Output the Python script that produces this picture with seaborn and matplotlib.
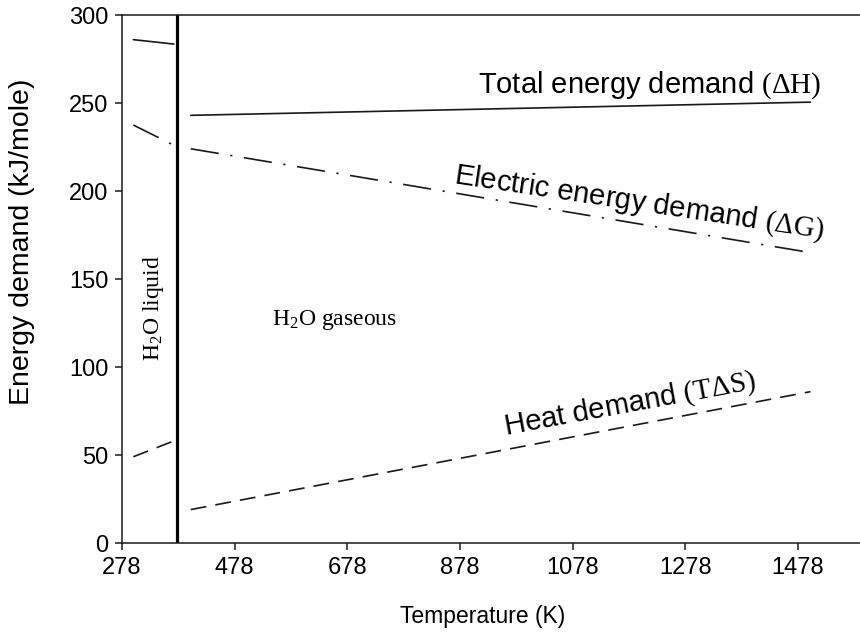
import matplotlib
matplotlib.use('Agg')
import matplotlib.pyplot as plt
import seaborn as sns
import pandas as pd

temp_liquid = [298, 370]
temp_gas = [400, 1500]
total_liquid = [286, 283.5]
total_gas = [243, 250.5]
electric_liquid = [237.5, 226]
electric_gas = [224, 165]
heat_liquid = [49, 58]
heat_gas = [19, 86]
boiling_point = 376

x_ticks = [278, 478, 678, 878, 1078, 1278, 1478]
y_ticks = [0, 50, 100, 150, 200, 250, 300]

sns.set_style('ticks')
plt.rcParams['font.family'] = ['Liberation Sans', 'DejaVu Sans']
plt.rcParams['mathtext.fontset'] = 'custom'
plt.rcParams['mathtext.rm'] = 'Liberation Serif'
plt.rcParams['mathtext.it'] = 'Liberation Serif'
plt.rcParams['text.color'] = 'black'
plt.rcParams['axes.labelcolor'] = 'black'
plt.rcParams['xtick.color'] = 'black'
plt.rcParams['ytick.color'] = 'black'

ink = '#1a1a1a'

fig = plt.figure(figsize=(8.6, 6.36), dpi=100)
ax = fig.add_axes([0.1419, 0.1462, 0.8581, 0.8302])

segments = [
    (temp_liquid, total_liquid, '-'),
    (temp_gas, total_gas, '-'),
    (temp_liquid, electric_liquid, (0, (17, 7, 1.3, 7))),
    (temp_gas, electric_gas, (0, (17, 7, 1.3, 7))),
    (temp_liquid, heat_liquid, (0, (9.5, 5.5))),
    (temp_gas, heat_gas, (0, (9.5, 5.5))),
]
for xs, ys, ls in segments:
    df = pd.DataFrame({'T': xs, 'E': ys})
    sns.lineplot(data=df, x='T', y='E', ax=ax, color=ink, lw=1.2, linestyle=ls)

ax.axvline(boiling_point, color='black', lw=2.3)

ax.set_xlim(278, 1588)
ax.set_ylim(0, 300)
ax.set_xticks(x_ticks)
ax.set_yticks(y_ticks)
ax.tick_params(labelsize=17, length=5, width=1.1, color=ink, pad=5)
for s in ['left', 'bottom', 'top']:
    ax.spines[s].set_linewidth(1.1)
    ax.spines[s].set_color(ink)
ax.spines['right'].set_visible(False)

ax.set_xlabel('Temperature (K)', fontsize=16.5)
ax.set_ylabel('Energy demand (kJ/mole)', fontsize=20.5)
ax.xaxis.set_label_coords(0.488, -0.118)
ax.yaxis.set_label_coords(-0.118, 0.57)

ax.text(910, 255.7, r'Total energy demand $\mathrm{(ΔH)}$', fontsize=21,
        ha='left', va='baseline', rotation_mode='anchor')
ax.text(866, 204.5, r'Electric energy demand $\mathrm{(ΔG)}$', fontsize=21,
        ha='left', va='baseline', rotation=-8.5, rotation_mode='anchor')
ax.text(958, 61.5, r'Heat demand $\mathrm{(TΔS)}$', fontsize=21,
        ha='left', va='baseline', rotation=10.5, rotation_mode='anchor')
ax.text(544, 124, r'H$_2$O gaseous', fontsize=17, family='Liberation Serif',
        ha='left', va='baseline')
ax.text(334, 133.5, r'H$_2$O liquid', fontsize=17, family='Liberation Serif',
        ha='center', va='center', rotation=90)

fig.savefig('out.png', dpi=100)
